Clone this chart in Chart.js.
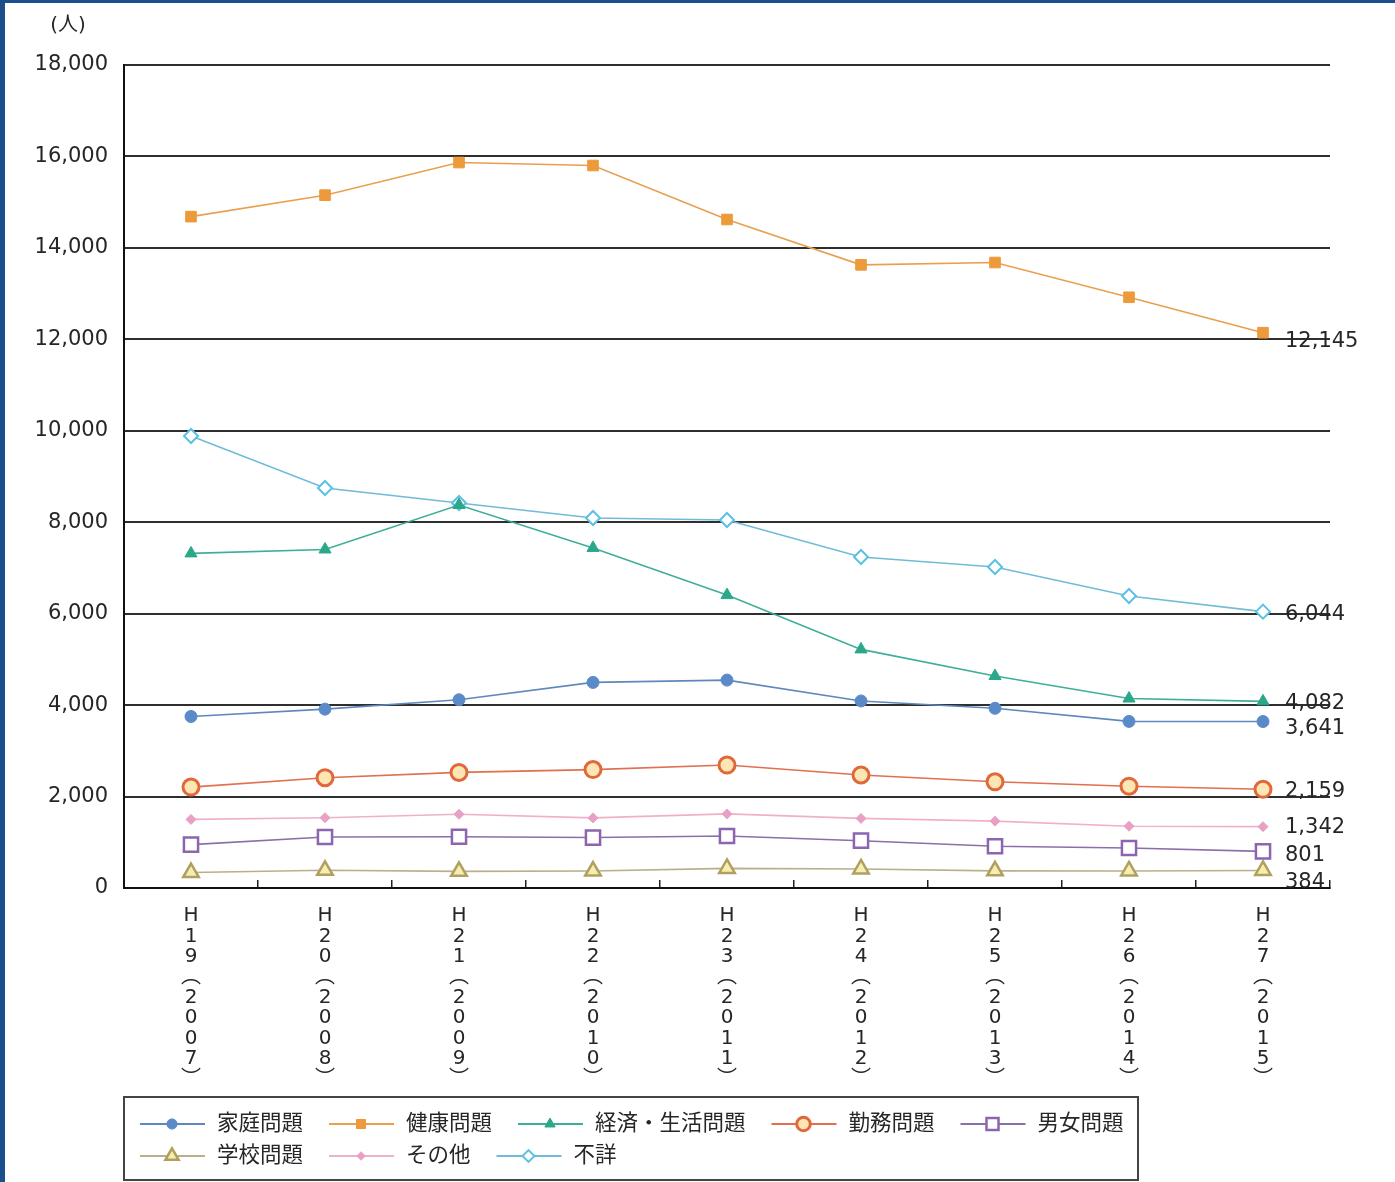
<!DOCTYPE html>
<html>
<head>
<meta charset="utf-8">
<script src="https://cdn.jsdelivr.net/npm/chart.js@4/dist/chart.umd.min.js"></script>
<style>
  body { margin: 0; background: #fff; }
  #wrap { position: relative; width: 1395px; height: 1182px; }
  .frameTop { position: absolute; left: 0; top: 0; width: 1395px; height: 3px; background: #1b4f8c; }
  .frameLeft { position: absolute; left: 0; top: 0; width: 5px; height: 1182px; background: #1b4f8c; }
</style>
</head>
<body>
<div id="wrap">
  <canvas id="chart" width="1395" height="1182"></canvas>
  <div class="frameTop"></div>
  <div class="frameLeft"></div>
</div>
<script>
// data (人)
var categories = ['H19(2007)', 'H20(2008)', 'H21(2009)', 'H22(2010)', 'H23(2011)', 'H24(2012)', 'H25(2013)', 'H26(2014)', 'H27(2015)']
var yTicks = [0, 2000, 4000, 6000, 8000, 10000, 12000, 14000, 16000, 18000]

var katei   = [3751, 3912, 4117, 4497, 4547, 4091, 3930, 3644, 3641]
var kenkou  = [14684, 15153, 15867, 15802, 14621, 13629, 13680, 12920, 12145]
var keizai  = [7318, 7404, 8377, 7438, 6406, 5219, 4636, 4144, 4082]
var kinmu   = [2207, 2412, 2528, 2590, 2689, 2472, 2323, 2227, 2159]
var danjo   = [949, 1115, 1121, 1103, 1138, 1035, 912, 875, 801]
var gakkou  = [338, 387, 364, 371, 429, 417, 375, 372, 384]
var sonota  = [1500, 1538, 1613, 1533, 1621, 1522, 1462, 1351, 1342]
var fushou  = [9885, 8748, 8420, 8092, 8048, 7239, 7020, 6386, 6044]

var FONT = '"DejaVu Sans", "Noto Sans CJK JP", sans-serif'
var TEXT = '#262626'

// small vertical shift of the end labels so they don't collide
var endShift = [7, 9, 2, 2, 4, 12, 1, 3]

function series(label, data, line, style, radius, fill, border, bw) {
    return {
        label: label,
        data: data,
        borderColor: line,
        backgroundColor: line,
        borderWidth: 1.6,
        tension: 0,
        pointStyle: style,
        pointRadius: radius,
        pointHoverRadius: radius,
        pointBackgroundColor: fill,
        pointBorderColor: border,
        pointBorderWidth: bw
    }
}

var datasets = [
    series('家庭問題', katei, '#5f88be', 'circle', 6, '#5b8ac8', '#5b8ac8', 1),
    series('健康問題', kenkou, '#e8a050', 'rect', 7.5, '#ec9a3a', '#ec9a3a', 1),
    series('経済・生活問題', keizai, '#3fae98', 'triangle', 7, '#2aa88a', '#2aa88a', 1),
    series('勤務問題', kinmu, '#e0704e', 'circle', 8, '#fde6b4', '#e0683a', 3),
    series('男女問題', danjo, '#8a70a8', 'rect', 10, '#ffffff', '#8c64b0', 2.5),
    series('学校問題', gakkou, '#b8b08a', 'triangle', 9, '#f6eeb0', '#b0a060', 2.5),
    series('その他', sonota, '#f0b0cc', 'rectRot', 5, '#e8a0c4', '#e8a0c4', 1),
    series('不詳', fushou, '#70bcd8', 'rectRot', 7, '#ffffff', '#5cc0e4', 2)
]

var extras = {
    id: 'extras',
    afterDatasetsDraw: function(chart) {
        var ctx = chart.ctx
        ctx.save()
        ctx.fillStyle = TEXT
        ctx.font = '20px ' + FONT
        ctx.textAlign = 'center'
        ctx.textBaseline = 'middle'
        ctx.fillText('(人)', 68, 26)

        // values at the end of each line
        ctx.font = '21px ' + FONT
        ctx.textAlign = 'left'
        chart.data.datasets.forEach(function(ds, i) {
            var pts = chart.getDatasetMeta(i).data
            var p = pts[pts.length - 1]
            var v = ds.data[ds.data.length - 1]
            ctx.fillText(v.toLocaleString('en-US'), p.x + 22, p.y + endShift[i])
        })

        // legend box
        var box = { left: 124, top: 1097, right: 1138, bottom: 1180 }
        ctx.strokeStyle = '#444'
        ctx.lineWidth = 2
        ctx.strokeRect(box.left, box.top, box.right - box.left, box.bottom - box.top)

        ctx.font = '21.5px ' + FONT
        var x = 140, y = 1124
        chart.data.datasets.forEach(function(ds) {
            var w = 77 + ctx.measureText(ds.label).width
            if (x + w > box.right) { x = 140; y += 32 }
            ctx.strokeStyle = ds.borderColor
            ctx.lineWidth = 2
            ctx.beginPath()
            ctx.moveTo(x, y)
            ctx.lineTo(x + 65, y)
            ctx.stroke()
            ctx.fillStyle = ds.pointBackgroundColor
            ctx.strokeStyle = ds.pointBorderColor
            ctx.lineWidth = ds.pointBorderWidth
            Chart.helpers.drawPoint(ctx, {
                pointStyle: ds.pointStyle,
                radius: ds.pointRadius * 0.85,
                borderWidth: ds.pointBorderWidth,
                rotation: 0
            }, x + 32, y)
            ctx.fillStyle = TEXT
            ctx.fillText(ds.label, x + 77, y)
            x += w + 26
        })
        ctx.restore()
    }
}

var ctx = document.getElementById('chart').getContext('2d')
var chart = new Chart(ctx, {
    type: 'line',
    data: {
        labels: categories.map(function(c) {
            return c.replace('(', '︵').replace(')', '︶').split('')
        }),
        datasets: datasets
    },
    options: {
        responsive: false,
        animation: false,
        layout: { padding: { left: 0, top: 65, right: 65, bottom: 0 } },
        plugins: {
            legend: { display: false },
            tooltip: { enabled: false }
        },
        scales: {
            x: {
                offset: true,
                grid: {
                    offset: true,
                    drawOnChartArea: false,
                    drawTicks: true,
                    tickLength: -8,
                    color: '#222',
                    lineWidth: 1.5
                },
                border: { color: '#111', width: 2 },
                ticks: {
                    autoSkip: false,
                    maxRotation: 0,
                    padding: 26,
                    color: TEXT,
                    font: { family: FONT, size: 20, lineHeight: 1.02 }
                },
                afterFit: function(scale) { scale.height = 294 }
            },
            y: {
                min: yTicks[0],
                max: yTicks[yTicks.length - 1],
                afterBuildTicks: function(scale) {
                    scale.ticks = yTicks.map(function(v) { return { value: v } })
                },
                grid: { color: '#2e2e2e', lineWidth: 2, drawTicks: false },
                border: { color: '#111', width: 2 },
                ticks: {
                    padding: 16,
                    color: TEXT,
                    font: { family: FONT, size: 21 },
                    callback: function(v) { return v.toLocaleString('en-US') }
                },
                afterFit: function(scale) { scale.width = 124 }
            }
        }
    },
    plugins: [extras]
})
</script>
</body>
</html>
